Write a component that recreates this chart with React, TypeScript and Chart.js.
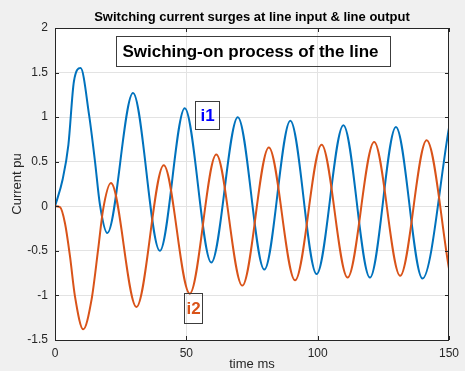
import React, { useEffect, useRef } from "react";
import { Chart, registerables } from "chart.js";

Chart.register(...registerables);

// ---- data ----
const i1Time = [0, 2.9, 5.1, 7.2, 9.75, 13.0, 15.2, 17.1, 19.9, 29.7, 39.9, 49.4, 59.5, 69.6, 79.7, 89.6, 99.6, 109.8, 119.9, 129.8, 139.9, 150];
const i1Values = [0, 0.3, 0.69, 1.4, 1.55, 1.02, 0.51, 0.02, -0.3, 1.27, -0.5, 1.1, -0.63, 1.0, -0.71, 0.96, -0.76, 0.91, -0.8, 0.89, -0.81, 0.88];

const i2Time = [0, 1.9, 3.8, 5.7, 7.6, 10.75, 13.9, 16.4, 18.3, 21.3, 31.0, 41.4, 51.3, 61.4, 71.3, 81.4, 91.4, 101.5, 111.4, 121.5, 131.4, 141.5, 150];
const i2Values = [0, -0.01, -0.19, -0.56, -1.01, -1.38, -1.05, -0.49, -0.04, 0.26, -1.13, 0.46, -0.98, 0.58, -0.89, 0.66, -0.83, 0.69, -0.8, 0.72, -0.78, 0.74, -0.7];

const seriesNames = ["i1", "i2"];
const titleText = "Switching current surges at line input & line output";
const xLabel = "time ms";
const yLabel = "Current pu";
const boxText = "Swiching-on process of the line";

const xTicks = [0, 50, 100, 150];
const yTicks = [-1.5, -1, -0.5, 0, 0.5, 1, 1.5, 2];

// ---- styles / layout ----
const BLUE = "#0072BD";
const ORANGE = "#D95319";
const AXIS = "#262626";
const FONT = "'Liberation Sans', Arial, sans-serif";

// annotation boxes in data coordinates [x0, x1, y0(top), y1(bottom)]
const mainBox = { x0: 23.05, x1: 127.6, y0: 1.91, y1: 1.574 };
const i1Box = { x0: 53.4, x1: 62.4, y0: 1.185, y1: 0.864, color: "#0000FF" };
const i2Box = { x0: 49.0, x1: 56.1, y0: -0.976, y1: -1.313, color: ORANGE };

const decorPlugin = {
  id: "decor",
  beforeDraw(chart: any) {
    const { ctx, chartArea: a } = chart;
    ctx.save();
    ctx.fillStyle = "#f0f0f0";
    ctx.fillRect(0, 0, chart.width, chart.height);
    ctx.fillStyle = "#ffffff";
    ctx.fillRect(a.left, a.top, a.right - a.left, a.bottom - a.top);
    ctx.restore();
  },
  afterDraw(chart: any) {
    const { ctx, chartArea: a, scales } = chart;
    const xs = scales.x;
    const ys = scales.y;
    ctx.save();
    // axes box
    ctx.strokeStyle = AXIS;
    ctx.lineWidth = 1;
    ctx.strokeRect(Math.round(a.left) + 0.5, Math.round(a.top) + 0.5, Math.round(a.right - a.left) - 1, Math.round(a.bottom - a.top));
    // inner tick marks
    const tl = 4;
    ctx.beginPath();
    xTicks.forEach((t) => {
      const px = Math.round(xs.getPixelForValue(t)) + 0.5;
      ctx.moveTo(px, a.bottom);
      ctx.lineTo(px, a.bottom - tl);
      ctx.moveTo(px, a.top);
      ctx.lineTo(px, a.top + tl);
    });
    yTicks.forEach((t) => {
      const py = Math.round(ys.getPixelForValue(t)) + 0.5;
      ctx.moveTo(a.left, py);
      ctx.lineTo(a.left + tl, py);
      ctx.moveTo(a.right, py);
      ctx.lineTo(a.right - tl, py);
    });
    ctx.stroke();

    // title
    ctx.fillStyle = "#000000";
    ctx.font = `bold 13px ${FONT}`;
    ctx.textAlign = "center";
    ctx.textBaseline = "middle";
    ctx.fillText(titleText, (a.left + a.right) / 2, 17.5);

    // axis labels
    ctx.fillStyle = AXIS;
    ctx.font = `13px ${FONT}`;
    ctx.fillText(xLabel, (a.left + a.right) / 2, 364);
    ctx.save();
    ctx.translate(17.5, (a.top + a.bottom) / 2);
    ctx.rotate(-Math.PI / 2);
    ctx.fillText(yLabel, 0, 0);
    ctx.restore();

    // annotation boxes
    const drawBox = (b: any, text: string, color: string, font: string, align: string) => {
      const l = Math.round(xs.getPixelForValue(b.x0)) + 0.5;
      const r = Math.round(xs.getPixelForValue(b.x1)) + 0.5;
      const t = Math.round(ys.getPixelForValue(b.y0)) + 0.5;
      const bt = Math.round(ys.getPixelForValue(b.y1)) + 0.5;
      ctx.strokeStyle = "#3c3c3c";
      ctx.lineWidth = 1;
      ctx.strokeRect(l, t, r - l, bt - t);
      ctx.fillStyle = color;
      ctx.font = font;
      ctx.textBaseline = "middle";
      if (align === "left") {
        ctx.textAlign = "left";
        ctx.fillText(text, l + 6, (t + bt) / 2 + 1);
      } else {
        ctx.textAlign = "center";
        ctx.fillText(text, (l + r) / 2, (t + bt) / 2 + 1);
      }
    };
    drawBox(mainBox, boxText, "#000000", `bold 17px ${FONT}`, "left");
    drawBox(i1Box, seriesNames[0], i1Box.color, `bold 17px ${FONT}`, "center");
    drawBox(i2Box, seriesNames[1], i2Box.color, `bold 17px ${FONT}`, "center");
    ctx.restore();
  },
};

export default function App() {
  const ref = useRef<HTMLCanvasElement | null>(null);
  useEffect(() => {
    document.body.style.margin = "0";
    const canvas = ref.current;
    if (!canvas) return;
    const chart = new Chart(canvas, {
      type: "line",
      data: {
        datasets: [
          {
            label: seriesNames[0],
            data: i1Time.map((t, i) => ({ x: t, y: i1Values[i] })),
            borderColor: BLUE,
            borderWidth: 2,
            pointRadius: 0,
            cubicInterpolationMode: "monotone",
            fill: false,
            order: 1,
          },
          {
            label: seriesNames[1],
            data: i2Time.map((t, i) => ({ x: t, y: i2Values[i] })),
            borderColor: ORANGE,
            borderWidth: 2,
            pointRadius: 0,
            cubicInterpolationMode: "monotone",
            fill: false,
            order: 0,
          },
        ],
      },
      options: {
        animation: false,
        responsive: false,
        devicePixelRatio: 1,
        events: [],
        layout: { padding: { left: 0, right: 15, top: 28, bottom: 0 } },
        plugins: {
          legend: { display: false },
          title: { display: false },
          tooltip: { enabled: false },
        },
        scales: {
          x: {
            type: "linear",
            min: 0,
            max: 150,
            afterFit: (s: any) => {
              s.height = 31;
            },
            afterBuildTicks: (s: any) => {
              s.ticks = xTicks.map((v) => ({ value: v }));
            },
            border: { display: false },
            grid: { color: "#e3e3e3", drawTicks: false, lineWidth: 1 },
            ticks: {
              color: AXIS,
              font: { family: FONT, size: 12 },
              padding: 6,
              maxRotation: 0,
              callback: (v: any) => String(v),
            },
          },
          y: {
            type: "linear",
            min: -1.5,
            max: 2,
            afterFit: (s: any) => {
              s.width = 55;
            },
            afterBuildTicks: (s: any) => {
              s.ticks = yTicks.map((v) => ({ value: v }));
            },
            border: { display: false },
            grid: { color: "#e3e3e3", drawTicks: false, lineWidth: 1 },
            ticks: {
              color: AXIS,
              font: { family: FONT, size: 12 },
              padding: 7,
              callback: (v: any) => String(v),
            },
          },
        },
      },
      plugins: [decorPlugin],
    } as any);
    return () => chart.destroy();
  }, []);
  return <canvas ref={ref} width={465} height={371} style={{ display: "block" }} />;
}
